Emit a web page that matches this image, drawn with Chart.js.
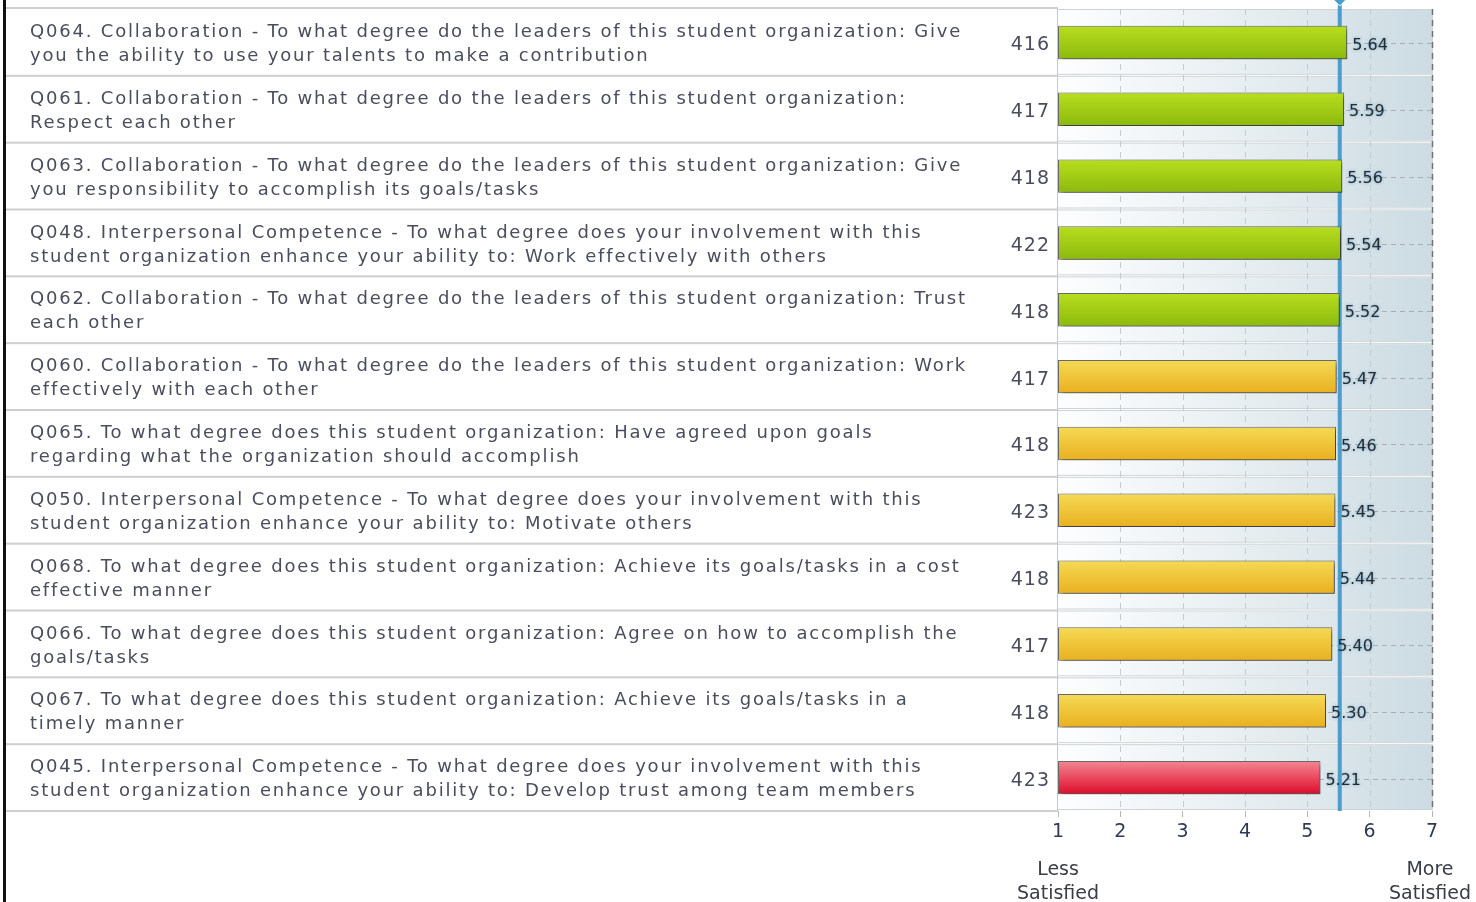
<!DOCTYPE html>
<html>
<head>
<meta charset="utf-8">
<script src="https://cdn.jsdelivr.net/npm/chart.js@4/dist/chart.umd.min.js"></script>
<style>
  html, body { margin: 0; padding: 0; background: #fff; }
  #wrap { position: absolute; left: 0; top: 0; width: 1476px; height: 902px; }
</style>
</head>
<body>
<div id="wrap"><canvas id="itemChart"></canvas></div>
<script>
// question text, already split the way the report wraps it
const questions = [
  ["Q064. Collaboration - To what degree do the leaders of this student organization: Give", "you the ability to use your talents to make a contribution"],
  ["Q061. Collaboration - To what degree do the leaders of this student organization:", "Respect each other"],
  ["Q063. Collaboration - To what degree do the leaders of this student organization: Give", "you responsibility to accomplish its goals/tasks"],
  ["Q048. Interpersonal Competence - To what degree does your involvement with this", "student organization enhance your ability to: Work effectively with others"],
  ["Q062. Collaboration - To what degree do the leaders of this student organization: Trust", "each other"],
  ["Q060. Collaboration - To what degree do the leaders of this student organization: Work", "effectively with each other"],
  ["Q065. To what degree does this student organization: Have agreed upon goals", "regarding what the organization should accomplish"],
  ["Q050. Interpersonal Competence - To what degree does your involvement with this", "student organization enhance your ability to: Motivate others"],
  ["Q068. To what degree does this student organization: Achieve its goals/tasks in a cost", "effective manner"],
  ["Q066. To what degree does this student organization: Agree on how to accomplish the", "goals/tasks"],
  ["Q067. To what degree does this student organization: Achieve its goals/tasks in a", "timely manner"],
  ["Q045. Interpersonal Competence - To what degree does your involvement with this", "student organization enhance your ability to: Develop trust among team members"]
];
const counts = [416, 417, 418, 422, 418, 417, 418, 423, 418, 417, 418, 423];
const means = [5.64, 5.59, 5.56, 5.54, 5.52, 5.47, 5.46, 5.45, 5.44, 5.40, 5.30, 5.21];
const bands = ["high", "high", "high", "high", "high", "mid", "mid", "mid", "mid", "mid", "mid", "low"];
const referenceMean = 5.52;
const scaleMin = 1;
const scaleMax = 7;
const endLabels = [["Less", "Satisfied"], ["More", "Satisfied"]];

const bandColors = {
  high: ["#b8de1e", "#8cb90e"],
  mid: ["#f5da55", "#e9b020"],
  low: ["#f38793", "#de0c2a"]
};

const TEXT = "#4a4d5c";
const FONT = "DejaVu Sans, Verdana, sans-serif";

function rowBounds(chart, i) {
  const y = chart.scales.y;
  const c = y.getPixelForValue(i);
  const h = (chart.chartArea.bottom - chart.chartArea.top) / questions.length;
  return { top: c - h / 2, bottom: c + h / 2, center: c, h: h };
}

const tablePlugin = {
  id: "table",
  beforeDraw(chart) {
    const ctx = chart.ctx;
    const area = chart.chartArea;
    const x = chart.scales.x;
    const refX = x.getPixelForValue(referenceMean);
    ctx.save();
    ctx.fillStyle = "#fff";
    ctx.fillRect(0, 0, chart.width, chart.height);

    // left border of the table
    ctx.fillStyle = "#111";
    ctx.fillRect(3, 0, 3, chart.height);

    // top separator from the previous (cut off) row
    ctx.fillStyle = "#cfcfcf";
    ctx.fillRect(6, area.top - 2, area.left - 6, 2);

    for (let i = 0; i < questions.length; i++) {
      const r = rowBounds(chart, i);
      // row separator in the text part
      ctx.fillStyle = "#cfcfcf";
      ctx.fillRect(6, r.bottom - 1, area.left - 6, 2);

      // question text
      ctx.fillStyle = TEXT;
      ctx.font = "18px " + FONT;
      ctx.textBaseline = "middle";
      ctx.textAlign = "left";
      ctx.letterSpacing = "1.8px";
      ctx.fillText(questions[i][0], 30, r.center - 10);
      ctx.fillText(questions[i][1], 30, r.center + 14);
      ctx.letterSpacing = "0px";

      // respondent count
      ctx.font = "19px " + FONT;
      ctx.textAlign = "right";
      ctx.letterSpacing = "1px";
      ctx.fillText(String(counts[i]), area.left - 8, r.center + 3);
      ctx.letterSpacing = "0px";

      // plot row panel
      const top = r.top + 1, bot = r.bottom - 2;
      const g = ctx.createLinearGradient(area.left, 0, refX, 0);
      g.addColorStop(0, "#fdfeff");
      g.addColorStop(1, "#dce6ea");
      ctx.fillStyle = g;
      ctx.fillRect(area.left, top, refX - area.left, bot - top);
      const g2 = ctx.createLinearGradient(refX, 0, area.right, 0);
      g2.addColorStop(0, "#d8e4e9");
      g2.addColorStop(1, "#ccdce3");
      ctx.fillStyle = g2;
      ctx.fillRect(refX, top, area.right - refX, bot - top);
      ctx.strokeStyle = "#cdd3d6";
      ctx.lineWidth = 1;
      ctx.strokeRect(area.left - 0.5, top - 0.5, area.right - area.left + 1, bot - top + 1);

      // dashed centre line
      ctx.setLineDash([5, 4]);
      ctx.strokeStyle = "#a8aeb2";
      ctx.beginPath();
      ctx.moveTo(area.left, Math.round(r.center) + 1.5);
      ctx.lineTo(area.right, Math.round(r.center) + 1.5);
      ctx.stroke();
      ctx.setLineDash([]);
    }

    // vertical dashed grid
    ctx.setLineDash([6, 5]);
    x.ticks.forEach(t => {
      const px = Math.round(x.getPixelForValue(t.value)) + 0.5;
      if (t.value === scaleMin) return;
      ctx.strokeStyle = t.value === scaleMax ? "#6f7377" : "#c5cbcf";
      ctx.lineWidth = t.value === scaleMax ? 1.5 : 1;
      ctx.beginPath();
      ctx.moveTo(px, area.top);
      ctx.lineTo(px, area.bottom);
      ctx.stroke();
    });
    ctx.setLineDash([]);

    // plot left edge
    ctx.fillStyle = "#c8c8c8";
    ctx.fillRect(area.left - 1, area.top - 2, 1, area.bottom - area.top + 2);
    ctx.restore();
  },
  beforeDatasetsDraw(chart) {
    const ctx = chart.ctx;
    const area = chart.chartArea;
    const refX = chart.scales.x.getPixelForValue(referenceMean);
    ctx.save();
    ctx.fillStyle = "#4b9dcc";
    ctx.fillRect(refX - 2, 0, 4, area.bottom);
    ctx.restore();
    ctx.save();
    ctx.shadowColor = "rgba(0,0,0,0.45)";
    ctx.shadowBlur = 4;
    ctx.shadowOffsetX = 3;
    ctx.shadowOffsetY = 3;
  },
  afterDatasetsDraw(chart) {
    const ctx = chart.ctx;
    ctx.restore();
    const meta = chart.getDatasetMeta(0);
    ctx.save();
    ctx.font = "16px " + FONT;
    ctx.textAlign = "left";
    ctx.textBaseline = "middle";
    meta.data.forEach((bar, i) => {
      ctx.shadowColor = "rgba(90,160,210,0.9)";
      ctx.shadowBlur = 3;
      ctx.fillStyle = "#2b2b2b";
      ctx.fillText(means[i].toFixed(2), bar.x + 5, bar.y + 3);
    });
    ctx.restore();
  },
  afterDraw(chart) {
    const ctx = chart.ctx;
    const x = chart.scales.x;
    const refX = x.getPixelForValue(referenceMean);
    ctx.save();
    // marker on top of the reference line
    ctx.fillStyle = "#4b9dcc";
    ctx.strokeStyle = "#fff";
    ctx.beginPath();
    ctx.moveTo(refX - 7, -1);
    ctx.lineTo(refX, 6);
    ctx.lineTo(refX + 7, -1);
    ctx.lineTo(refX, -8);
    ctx.closePath();
    ctx.fill();
    ctx.stroke();

    ctx.fillStyle = "#3a3d48";
    ctx.font = "19px " + FONT;
    ctx.textAlign = "center";
    ctx.textBaseline = "middle";
    const ends = [x.getPixelForValue(scaleMin), x.getPixelForValue(scaleMax)];
    endLabels.forEach((lines, k) => {
      lines.forEach((s, j) => ctx.fillText(s, ends[k] + (k ? -2 : 0), 870 + j * 24));
    });
    ctx.restore();
  }
};

new Chart(document.getElementById("itemChart"), {
  type: "bar",
  data: {
    labels: questions,
    datasets: [{
      data: means.map(v => [scaleMin, v]),
      backgroundColor(c) {
        const chart = c.chart;
        const pair = bandColors[bands[c.dataIndex]];
        if (!chart.chartArea || c.dataIndex === undefined) return pair[0];
        const r = rowBounds(chart, c.dataIndex);
        const half = r.h * 0.25;
        const g = chart.ctx.createLinearGradient(0, r.center - half, 0, r.center + half);
        g.addColorStop(0, pair[0]);
        g.addColorStop(1, pair[1]);
        return g;
      },
      borderColor: "#6a6a6a",
      borderWidth: 1,
      borderSkipped: false,
      barPercentage: 0.5,
      categoryPercentage: 1
    }]
  },
  options: {
    indexAxis: "y",
    responsive: true,
    maintainAspectRatio: false,
    animation: false,
    layout: { padding: { left: 1058, right: 44, top: 9, bottom: 0 } },
    plugins: { legend: { display: false }, tooltip: { enabled: false } },
    scales: {
      y: { display: false },
      x: {
        min: scaleMin,
        max: scaleMax,
        ticks: {
          stepSize: 1,
          color: "#2e3a58",
          font: { family: FONT, size: 19 },
          padding: 4
        },
        grid: {
          drawOnChartArea: false,
          drawTicks: true,
          tickLength: 6,
          color: "#b5b5b5"
        },
        border: { display: false },
        afterFit(scale) { scale.height = 91; }
      }
    }
  },
  plugins: [tablePlugin]
});
</script>
</body>
</html>
